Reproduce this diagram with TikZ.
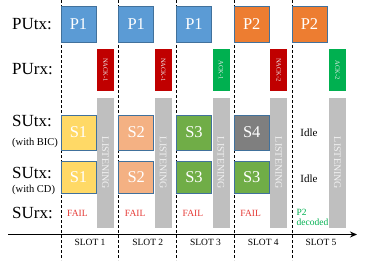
\documentclass[tikz,border=0pt]{standalone}
\usepackage{fontspec}
\setmainfont{Liberation Serif}
\usetikzlibrary{arrows.meta}
\definecolor{pblue}{HTML}{5B9BD5}
\definecolor{porange}{HTML}{ED7D31}
\definecolor{nred}{HTML}{C00000}
\definecolor{agreen}{HTML}{00B050}
\definecolor{lgray}{HTML}{BFBFBF}
\definecolor{syellow}{HTML}{FFD966}
\definecolor{speach}{HTML}{F4B183}
\definecolor{sgreen}{HTML}{70AD47}
\definecolor{sgray}{HTML}{7F7F7F}
\definecolor{bord}{HTML}{41719C}
\definecolor{failred}{HTML}{E53935}
\tikzset{
  pbox/.style={draw=bord,line width=0.8pt,minimum width=35pt,minimum height=36pt,inner sep=0pt,text=white,font=\fontsize{16.5}{18}\selectfont},
  sbox/.style={draw=bord,line width=0.8pt,minimum width=35pt,inner sep=0pt,text=white,font=\fontsize{16.5}{18}\selectfont},
  ackbox/.style={minimum width=17pt,minimum height=42pt,inner sep=0pt,text=white!85!gray},
  acktext/.style={rotate=-90,text=white!85!gray,font=\fontsize{6.5}{7}\selectfont,inner sep=0pt},
  lisbox/.style={fill=lgray,minimum width=17pt,minimum height=130pt,inner sep=0pt},
  listext/.style={rotate=-90,text=white!90!gray,font=\fontsize{10}{11}\selectfont,inner sep=0pt},
  rowlabel/.style={font=\fontsize{17}{19}\selectfont,inner sep=0pt,anchor=west},
  sublabel/.style={font=\fontsize{10.5}{12}\selectfont,inner sep=0pt,anchor=west},
  slotdash/.style={dash pattern=on 3pt off 2pt,line width=0.75pt},
  fail/.style={text=failred,font=\fontsize{9.5}{11}\selectfont,inner sep=0pt,anchor=west},
  slotlab/.style={font=\fontsize{9.5}{11}\selectfont,inner sep=0pt},
  idle/.style={font=\fontsize{11}{13}\selectfont,inner sep=0pt},
}
\begin{document}
\begin{tikzpicture}[x=1pt,y=-1pt]
\useasboundingbox (0,0) rectangle (366,260);
% dashed slot separators
\foreach \i/\s in {1/61,2/118.75,3/176.5,4/234.25,5/292}{
  \coordinate (dt\i) at (\s,0);
  \coordinate (db\i) at (\s,260);
  \draw[slotdash] (dt\i) -- (db\i);
}
% row labels
\node[rowlabel] (lputx) at (12,24) {PUtx:};
\node[rowlabel] (lpurx) at (12,69) {PUrx:};
\node[rowlabel] (lsutx1) at (12,121) {SUtx:};
\node[sublabel] (lbic) at (12,143) {(with BIC)};
\node[rowlabel] (lsutx2) at (12,173) {SUtx:};
\node[sublabel] (lcd) at (12,190) {(with CD)};
\node[rowlabel] (lsurx) at (12,213) {SUrx:};
% PU tx
\node[pbox,fill=pblue] (p1) at (78.5,24) {P1};
\node[pbox,fill=pblue] (p2) at (136.25,24) {P1};
\node[pbox,fill=pblue] (p3) at (194,24) {P1};
\node[pbox,fill=porange] (p4) at (251.75,24) {P2};
\node[pbox,fill=porange] (p5) at (309.5,24) {P2};
% PU rx
\node[ackbox,fill=nred] (a1) at (105.5,70) {};
\node[acktext] at (a1) {NACK-1};
\node[ackbox,fill=nred] (a2) at (163.25,70) {};
\node[acktext] at (a2) {NACK-1};
\node[ackbox,fill=agreen] (a3) at (221,70) {};
\node[acktext] at (a3) {ACK-1};
\node[ackbox,fill=nred] (a4) at (278.75,70) {};
\node[acktext] at (a4) {NACK-2};
\node[ackbox,fill=agreen] (a5) at (337.5,70) {};
\node[acktext] at (a5) {ACK-2};
% listening
\foreach \i/\x in {1/105.5,2/163.25,3/221,4/278.75,5/337.5}{
  \node[lisbox] (ls\i) at (\x,163) {};
  \node[listext] (lt\i) at (\x,163) {LISTENING};
}
% SU tx with BIC
\node[sbox,fill=syellow,minimum height=35pt] (b1) at (78.5,132.5) {S1};
\node[sbox,fill=speach,minimum height=35pt] (b2) at (136.25,132.5) {S2};
\node[sbox,fill=sgreen,minimum height=35pt] (b3) at (194,132.5) {S3};
\node[sbox,fill=sgray,minimum height=35pt] (b4) at (251.75,132.5) {S4};
\node[idle] (i1) at (309,133) {Idle};
% SU tx with CD
\node[sbox,fill=syellow,minimum height=32pt] (c1) at (78.5,177) {S1};
\node[sbox,fill=speach,minimum height=32pt] (c2) at (136.25,177) {S2};
\node[sbox,fill=sgreen,minimum height=32pt] (c3) at (194,177) {S3};
\node[sbox,fill=sgreen,minimum height=32pt] (c4) at (251.75,177) {S3};
\node[idle] (i2) at (309,179) {Idle};
% SU rx
\node[fail] (f1) at (67,213) {FAIL};
\node[fail] (f2) at (124.75,213) {FAIL};
\node[fail] (f3) at (182.5,213) {FAIL};
\node[fail] (f4) at (240.25,213) {FAIL};
\node[fail,text=agreen,align=left,font=\fontsize{9.5}{10.5}\selectfont] (dec) at (296.5,217.5) {P2\\decoded};
% axis
\coordinate (ax0) at (8,234.5);
\coordinate (ax1) at (357,234.5);
\draw[line width=1.6pt,-{Stealth[length=7pt,width=6pt]}] (ax0) -- (ax1);
% slot labels
\foreach \i/\x in {1/90,2/147.75,3/205.5,4/263.25,5/321}{
  \node[slotlab] (sl\i) at (\x,242.5) {SLOT \i};
}
\end{tikzpicture}
\end{document}
